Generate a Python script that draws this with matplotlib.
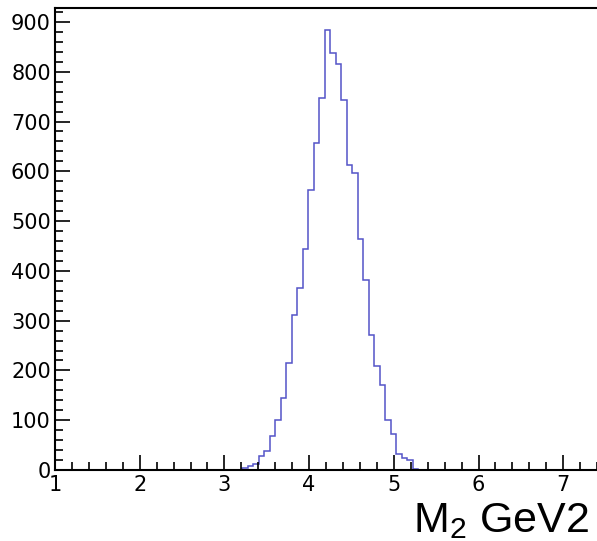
import matplotlib.pyplot as plt
import numpy as np
from matplotlib.ticker import MultipleLocator

# histogram spec: 100 bins from 1 to 7.5, counts start at bin 33
x_min = 1.0
x_max = 7.5
n_bins = 100
first_bin = 33
counts = [1, 5, 8, 13, 28, 39, 68, 101, 145, 214,
          311, 365, 443, 562, 657, 748, 884, 837, 816, 743,
          613, 597, 465, 381, 271, 209, 170, 101, 72, 32,
          24, 20, 2, 1, 1]
y_ticks = [0, 100, 200, 300, 400, 500, 600, 700, 800, 900]
x_ticks = [1, 2, 3, 4, 5, 6, 7]
x_title = "M$_\\mathregular{2}$ GeV2"

plt.rcParams["mathtext.fontset"] = "custom"
plt.rcParams["mathtext.rm"] = "Liberation Sans"

edges = np.linspace(x_min, x_max, n_bins + 1)
full_counts = np.zeros(n_bins)
full_counts[first_bin:first_bin + len(counts)] = counts

W, H = 597, 541
fig = plt.figure(figsize = (W/100, H/100), dpi = 100)
ax = fig.add_axes([55/W, 71/H, 550.6/W, 462/H])

ax.stairs(full_counts, edges, color = "#5454c8", linewidth = 1.1)

ax.set_xlim(x_min, x_max)
ax.set_ylim(0, 928)
ax.set_xticks(x_ticks)
ax.set_yticks(y_ticks)
ax.xaxis.set_minor_locator(MultipleLocator(0.2))
ax.yaxis.set_minor_locator(MultipleLocator(20))

ax.tick_params(which = "both", direction = "in", top = False, right = False,
               width = 1.2, colors = "black")
ax.tick_params(which = "major", length = 11, labelsize = 15)
ax.tick_params(which = "minor", length = 5.5)
ax.tick_params(axis = "y", pad = 3)
ax.tick_params(axis = "x", pad = 3.5)
for lab in ax.get_xticklabels() + ax.get_yticklabels():
    lab.set_fontfamily("DejaVu Sans")

for sp in ax.spines.values():
    sp.set_linewidth(1.5)
    sp.set_color("black")

fig.text(413/W, 9/H, x_title, fontsize = 31, family = "Liberation Sans",
         ha = "left", va = "baseline")

fig.savefig("out.png", dpi = 100)
